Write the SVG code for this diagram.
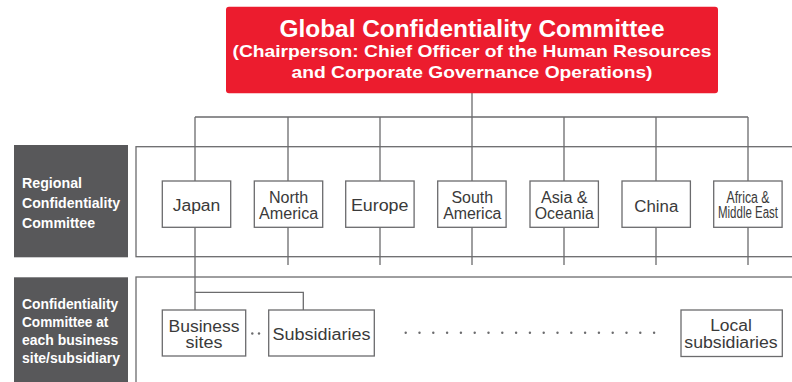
<svg xmlns="http://www.w3.org/2000/svg" width="792" height="382" viewBox="0 0 792 382">
<style>
.ln{fill:none;stroke:#6b6b6d;stroke-width:1.3}
.nd{fill:#fff;stroke:#6b6b6d;stroke-width:1.3}
.nt{font-family:"Liberation Sans",Arial,sans-serif;font-size:16px;fill:#3a3a3a;text-anchor:middle}
.lb{fill:#58585a}
.lt{font-family:"Liberation Sans",Arial,sans-serif;font-size:15px;font-weight:bold;fill:#fff}
.tt{font-family:"Liberation Sans",Arial,sans-serif;font-weight:bold;fill:#fff;text-anchor:middle}
.dot{fill:#6b6b6d}
</style>
<rect width="792" height="382" fill="#fff"/>
<g id="frames">
<rect class="ln" x="136" y="146.7" width="670" height="110"/>
<rect class="ln" x="136" y="277" width="670" height="120"/>
</g>
<g id="connectors">
<path class="ln" d="M472 93V117M195 117H748M195 117V181M288 117V181M380 117V181M472 117V181M564 117V181M656 117V181M748 117V181"/>
<path class="ln" d="M195 227V310M288 227V265M380 227V265M472 227V265M564 227V265M656 227V265M748 227V265"/>
<path class="ln" d="M195 292.3H303.3V310"/>
</g>
<g id="global">
<rect x="226" y="6.7" width="492" height="86.6" rx="3" fill="#ec1c2e"/>
<text class="tt" x="472" y="37.3" font-size="24.5" textLength="385" lengthAdjust="spacingAndGlyphs">Global Confidentiality Committee</text>
<text class="tt" x="472" y="57" font-size="17" textLength="479" lengthAdjust="spacingAndGlyphs">(Chairperson: Chief Officer of the Human Resources</text>
<text class="tt" x="472" y="77.5" font-size="17" textLength="361" lengthAdjust="spacingAndGlyphs">and Corporate Governance Operations)</text>
</g>
<g id="label-regional">
<rect class="lb" x="14" y="145" width="114" height="112.3"/>
<text class="lt" x="22" y="188" textLength="60" lengthAdjust="spacingAndGlyphs">Regional</text>
<text class="lt" x="22" y="208" textLength="98" lengthAdjust="spacingAndGlyphs">Confidentiality</text>
<text class="lt" x="22" y="227.5" textLength="73" lengthAdjust="spacingAndGlyphs">Committee</text>
</g>
<g id="label-site">
<rect class="lb" x="14" y="277.3" width="114" height="110"/>
<text class="lt" x="22" y="309" textLength="96.3" lengthAdjust="spacingAndGlyphs">Confidentiality</text>
<text class="lt" x="22" y="327" textLength="86.3" lengthAdjust="spacingAndGlyphs">Committee at</text>
<text class="lt" x="22" y="345" textLength="96.3" lengthAdjust="spacingAndGlyphs">each business</text>
<text class="lt" x="22" y="363" textLength="98" lengthAdjust="spacingAndGlyphs">site/subsidiary</text>
</g>
<g id="japan">
<rect class="nd" x="162.3" y="181" width="68.4" height="46.3"/>
<text class="nt" x="196.5" y="210.7" textLength="47.7" lengthAdjust="spacingAndGlyphs">Japan</text>
</g>
<g id="north-america">
<rect class="nd" x="254.3" y="181" width="68.4" height="46.3"/>
<text class="nt" x="288.6" y="203.3" textLength="39.3" lengthAdjust="spacingAndGlyphs">North</text>
<text class="nt" x="288.6" y="219.3" textLength="59.3" lengthAdjust="spacingAndGlyphs">America</text>
</g>
<g id="europe">
<rect class="nd" x="345.7" y="181" width="68.4" height="46.3"/>
<text class="nt" x="379.7" y="211" textLength="57.6" lengthAdjust="spacingAndGlyphs">Europe</text>
</g>
<g id="south-america">
<rect class="nd" x="437.7" y="181" width="68.4" height="46.3"/>
<text class="nt" x="472.3" y="203.3" textLength="41.7" lengthAdjust="spacingAndGlyphs">South</text>
<text class="nt" x="472.3" y="219.3" textLength="58.3" lengthAdjust="spacingAndGlyphs">America</text>
</g>
<g id="asia-oceania">
<rect class="nd" x="530" y="181" width="68.4" height="46.3"/>
<text class="nt" x="564.3" y="203.3" textLength="46.7" lengthAdjust="spacingAndGlyphs">Asia &amp;</text>
<text class="nt" x="564.3" y="219.3" textLength="59" lengthAdjust="spacingAndGlyphs">Oceania</text>
</g>
<g id="china">
<rect class="nd" x="622" y="181" width="68.4" height="46.3"/>
<text class="nt" x="656.3" y="211.5" textLength="44" lengthAdjust="spacingAndGlyphs">China</text>
</g>
<g id="africa-middle-east">
<rect class="nd" x="713.7" y="181" width="68.4" height="46.3"/>
<text class="nt" x="748" y="202.7" font-size="15" textLength="43" lengthAdjust="spacingAndGlyphs">Africa &amp;</text>
<text class="nt" x="748" y="218.3" font-size="15" textLength="60" lengthAdjust="spacingAndGlyphs">Middle East</text>
</g>
<g id="business-sites">
<rect class="nd" x="162.3" y="310" width="83.4" height="46"/>
<text class="nt" x="204" y="331.7" textLength="71" lengthAdjust="spacingAndGlyphs">Business</text>
<text class="nt" x="204" y="348.3" textLength="37" lengthAdjust="spacingAndGlyphs">sites</text>
</g>
<g id="subsidiaries">
<rect class="nd" x="268.7" y="310" width="105.6" height="46"/>
<text class="nt" x="321.5" y="340" textLength="98" lengthAdjust="spacingAndGlyphs">Subsidiaries</text>
</g>
<g id="local-subsidiaries">
<rect class="nd" x="681" y="310" width="101.3" height="46.5"/>
<text class="nt" x="731" y="330.7" textLength="41.7" lengthAdjust="spacingAndGlyphs">Local</text>
<text class="nt" x="731" y="348.3" textLength="93.3" lengthAdjust="spacingAndGlyphs">subsidiaries</text>
</g>
<g id="ellipses">
<circle class="dot" cx="252.3" cy="333.5" r="1.2"/>
<circle class="dot" cx="259" cy="333.5" r="1.2"/>
<g id="dotrow">
<circle class="dot" cx="405.7" cy="332.7" r="1.2"/>
<circle class="dot" cx="419.5" cy="332.7" r="1.2"/>
<circle class="dot" cx="433.3" cy="332.7" r="1.2"/>
<circle class="dot" cx="447.1" cy="332.7" r="1.2"/>
<circle class="dot" cx="460.9" cy="332.7" r="1.2"/>
<circle class="dot" cx="474.7" cy="332.7" r="1.2"/>
<circle class="dot" cx="488.5" cy="332.7" r="1.2"/>
<circle class="dot" cx="502.3" cy="332.7" r="1.2"/>
<circle class="dot" cx="516.1" cy="332.7" r="1.2"/>
<circle class="dot" cx="529.9" cy="332.7" r="1.2"/>
<circle class="dot" cx="543.7" cy="332.7" r="1.2"/>
<circle class="dot" cx="557.5" cy="332.7" r="1.2"/>
<circle class="dot" cx="571.3" cy="332.7" r="1.2"/>
<circle class="dot" cx="585.1" cy="332.7" r="1.2"/>
<circle class="dot" cx="598.9" cy="332.7" r="1.2"/>
<circle class="dot" cx="612.7" cy="332.7" r="1.2"/>
<circle class="dot" cx="626.5" cy="332.7" r="1.2"/>
<circle class="dot" cx="640.3" cy="332.7" r="1.2"/>
<circle class="dot" cx="654.1" cy="332.7" r="1.2"/>
</g>
</g>
</svg>
